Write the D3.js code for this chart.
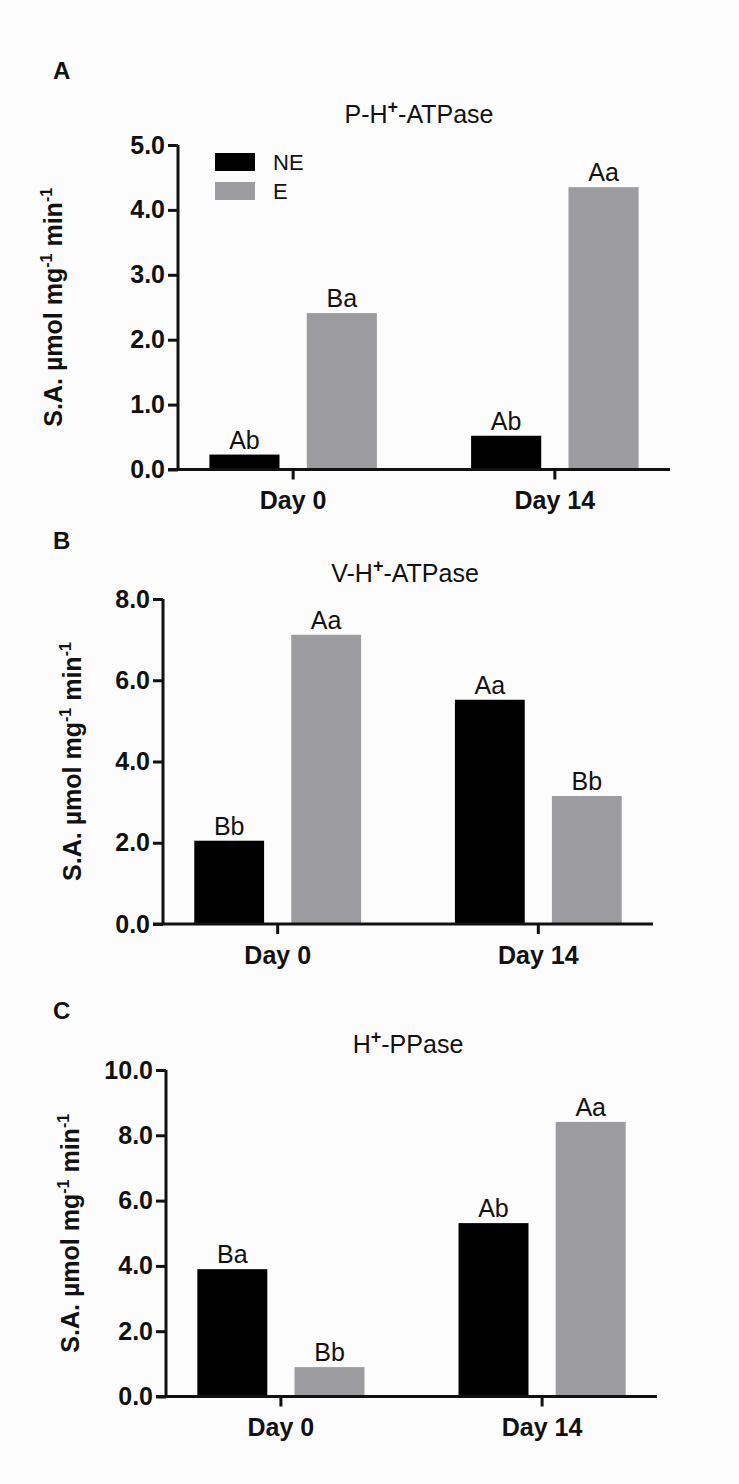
<!DOCTYPE html>
<html>
<head>
<meta charset="utf-8">
<script src="https://cdn.jsdelivr.net/npm/d3@7/dist/d3.min.js"></script>
<style>
  html, body { margin: 0; padding: 0; background: #fcfcfc; }
  svg { display: block; }
  text { font-family: "Liberation Sans", Arial, sans-serif; fill: #111; }
</style>
</head>
<body>
<script>
// ---------- data ----------
const days = ["Day 0", "Day 14"];
const groups = ["NE", "E"];

const neA = [0.23, 0.52];
const eA = [2.41, 4.35];
const neA_letters = ["Ab", "Ab"];
const eA_letters = ["Ba", "Aa"];
const ticksA = [0, 1, 2, 3, 4, 5];

const neB = [2.05, 5.52];
const eB = [7.12, 3.15];
const neB_letters = ["Bb", "Aa"];
const eB_letters = ["Aa", "Bb"];
const ticksB = [0, 2, 4, 6, 8];

const neC = [3.9, 5.31];
const eC = [0.9, 8.41];
const neC_letters = ["Ba", "Ab"];
const eC_letters = ["Bb", "Aa"];
const ticksC = [0, 2, 4, 6, 8, 10];

const colors = { NE: "#000000", E: "#9c9ca0" };

// ---------- layout ----------
const W = 739, H = 1484;
const panels = [
  { letter: "A", title: ["P-H", "+", "-ATPase"], ne: neA, e: eA, neL: neA_letters, eL: eA_letters, ticks: ticksA, max: 5,
    left: 178, right: 670, top: 145, bottom: 469.5, titleX: 419, titleY: 123, letterY: 79, ylabX: 62, legend: true },
  { letter: "B", title: ["V-H", "+", "-ATPase"], ne: neB, e: eB, neL: neB_letters, eL: eB_letters, ticks: ticksB, max: 8,
    left: 163, right: 653, top: 599, bottom: 924, titleX: 405, titleY: 582, letterY: 549, ylabX: 81, legend: false },
  { letter: "C", title: ["H", "+", "-PPase"], ne: neC, e: eC, neL: neC_letters, eL: eC_letters, ticks: ticksC, max: 10,
    left: 166, right: 657, top: 1070, bottom: 1396.5, titleX: 408, titleY: 1053, letterY: 1019, ylabX: 79, legend: false }
];

const svg = d3.select("body").append("svg").attr("width", W).attr("height", H);
svg.append("rect").attr("width", W).attr("height", H).attr("fill", "#fcfcfc");

panels.forEach(p => {
  const g = svg.append("g");
  const x0 = d3.scaleBand().domain(days).range([p.left, p.right]).paddingInner(0.36).paddingOuter(0.12);
  const x1 = d3.scaleBand().domain(groups).range([0, x0.bandwidth()]).paddingInner(0.28);
  const y = d3.scaleLinear().domain([0, p.max]).range([p.bottom, p.top]);

  // panel letter
  g.append("text").attr("x", 53).attr("y", p.letterY)
    .attr("font-size", 24).attr("font-weight", "bold").text(p.letter);

  // title
  const t = g.append("text").attr("x", p.titleX).attr("y", p.titleY)
    .attr("text-anchor", "middle").attr("font-size", 25);
  t.append("tspan").text(p.title[0]);
  t.append("tspan").attr("font-size", 18).attr("font-weight", "bold").attr("dy", -10).text(p.title[1]);
  t.append("tspan").attr("dy", 10).text(p.title[2]);

  // bars
  const rows = days.map((d, i) => [
    { day: d, grp: "NE", v: p.ne[i], lab: p.neL[i] },
    { day: d, grp: "E", v: p.e[i], lab: p.eL[i] }
  ]).flat();

  g.selectAll("rect.bar").data(rows).enter().append("rect")
    .attr("class", "bar")
    .attr("x", d => x0(d.day) + x1(d.grp))
    .attr("width", x1.bandwidth())
    .attr("y", d => y(d.v))
    .attr("height", d => y(0) - y(d.v))
    .attr("fill", d => colors[d.grp]);

  g.selectAll("text.lab").data(rows).enter().append("text")
    .attr("class", "lab")
    .attr("x", d => x0(d.day) + x1(d.grp) + x1.bandwidth() / 2)
    .attr("y", d => y(d.v) - 6)
    .attr("text-anchor", "middle")
    .attr("font-size", 25)
    .text(d => d.lab);

  // y axis
  const yAxis = d3.axisLeft(y).tickValues(p.ticks).tickFormat(d3.format(".1f")).tickSize(10).tickPadding(3);
  const ya = g.append("g").attr("transform", `translate(${p.left},0)`).call(yAxis);
  ya.select(".domain").attr("stroke", "#111").attr("stroke-width", 3).attr("d", `M0,${p.top}V${p.bottom}`);
  ya.selectAll(".tick line").attr("stroke", "#111").attr("stroke-width", 3);
  ya.selectAll(".tick text").attr("font-size", 25).attr("font-weight", "bold")
    .attr("font-family", "'Liberation Sans', Arial, sans-serif").attr("fill", "#111");

  // x axis
  const xAxis = d3.axisBottom(x0).tickSize(10).tickSizeOuter(0).tickPadding(12);
  const xa = g.append("g").attr("transform", `translate(0,${p.bottom})`).call(xAxis);
  xa.select(".domain").attr("stroke", "#111").attr("stroke-width", 3).attr("d", `M${p.left - 10},0H${p.right}`);
  xa.selectAll(".tick line").attr("stroke", "#111").attr("stroke-width", 3);
  xa.selectAll(".tick text").attr("font-size", 25).attr("font-weight", "bold")
    .attr("font-family", "'Liberation Sans', Arial, sans-serif").attr("fill", "#111");

  // y label
  const cy = (p.top + p.bottom) / 2;
  const yl = g.append("text").attr("transform", `translate(${p.ylabX},${cy}) rotate(-90)`)
    .attr("text-anchor", "middle").attr("font-size", 25).attr("font-weight", "bold");
  yl.append("tspan").text("S.A. µmol mg");
  yl.append("tspan").attr("font-size", 16).attr("dy", -10).text("-1");
  yl.append("tspan").attr("dy", 10).text(" min");
  yl.append("tspan").attr("font-size", 16).attr("dy", -10).text("-1");

  // legend
  if (p.legend) {
    const lg = g.append("g");
    groups.forEach((k, i) => {
      lg.append("rect").attr("x", 215).attr("y", 153 + i * 29).attr("width", 40).attr("height", 18).attr("fill", colors[k]);
      lg.append("text").attr("x", 273).attr("y", 162 + i * 29).attr("dominant-baseline", "central")
        .attr("font-size", 22).text(k);
    });
  }
});
</script>
</body>
</html>
